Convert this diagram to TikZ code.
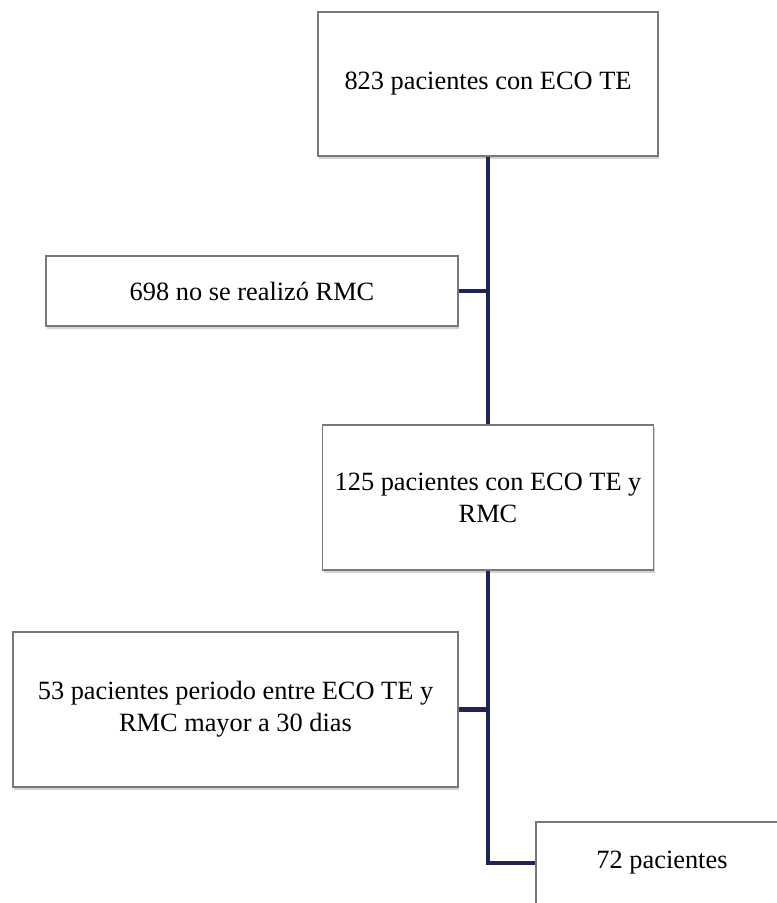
\documentclass[tikz,border=0pt]{standalone}
\usepackage{fontspec}
\setmainfont{Liberation Serif}
\definecolor{linknavy}{RGB}{32, 36, 84}
\definecolor{boxgray}{RGB}{120, 120, 120}
\usepackage{tikz}
\usetikzlibrary{
  positioning,
  calc,
  shadows
}

\begin{document}
\begin{tikzpicture}[
  flowbox/.style={
    draw=boxgray, line width=0.6pt, fill=white,
    drop shadow={shadow xshift=0.6pt, shadow yshift=-1.6pt, opacity=0.35},
    align=center, inner sep=4pt,
    font=\fontsize{15}{18.2}\selectfont
  },
  link/.style={
    line width=2.3pt, draw=linknavy
  }
]

\useasboundingbox (0, 0) rectangle (15.52, -18.06);

\node[flowbox, minimum width=6.8cm, minimum height=2.88cm] (b1) at (9.76, -1.68)
  {823 pacientes con ECO TE};

\node[flowbox, minimum width=8.24cm, minimum height=1.4cm] (b2) at (5.04, -5.82)
  {698 no se realizó RMC};

\node[flowbox, minimum width=6.62cm, minimum height=2.9cm] (b3) at (9.76, -9.95)
  {125 pacientes con ECO TE y\\RMC};

\node[flowbox, minimum width=8.9cm, minimum height=3.1cm] (b4) at (4.71, -14.19)
  {53 pacientes periodo entre ECO TE y\\RMC mayor a 30 dias};

\node[flowbox, minimum width=5.04cm, minimum height=1.64cm] (b5) at (13.24, -17.26)
  {72 pacientes};

\draw[link] (b1.south) -- (b3.north);
\draw[link] (b2.east) -- (b2.east -| b1.south);
\draw[link] (b3.south) |- (b5.west);
\draw[link] (b4.east) -- (b4.east -| b3.south);

\end{tikzpicture}
\end{document}
